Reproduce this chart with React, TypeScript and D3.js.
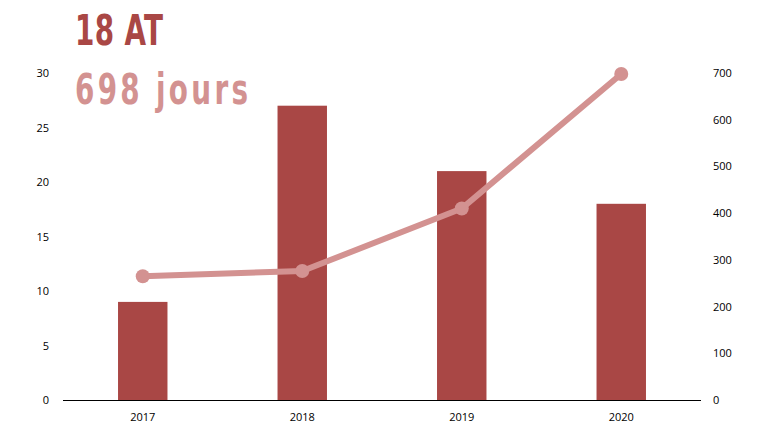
import React from "react";
import * as d3 from "d3";

const years = ["2017", "2018", "2019", "2020"];
const accidents = [9, 27, 21, 18];
const days = [265, 276, 410, 698];
const leftTicks = [0, 5, 10, 15, 20, 25, 30];
const rightTicks = [0, 100, 200, 300, 400, 500, 600, 700];

export default function App() {
  const W = 758, H = 424;
  const x0 = 63, x1 = 701, yTop = 73, yBot = 400;
  const x = d3.scaleBand().domain(years).range([x0, x1]).paddingInner(0.69).paddingOuter(0.345);
  const yL = d3.scaleLinear().domain([0, 30]).range([yBot, yTop]);
  const yR = d3.scaleLinear().domain([0, 700]).range([yBot, yTop]);
  const cx = (y: string) => (x(y) as number) + x.bandwidth() / 2;
  const line = d3.line<number>().x((_, i) => cx(years[i])).y(d => yR(d));
  const font = "'Open Sans', 'Liberation Sans', sans-serif";
  const titleFont = "'DejaVu Sans Condensed', 'DejaVu Sans', sans-serif";
  const sx = 0.72;
  return (
    <svg width={W} height={H} style={{ position: "absolute", left: 0, top: 0, background: "#fff" }}>
      <g transform={`scale(${sx},1)`}>
        <text x={75 / sx} y={45} fontFamily={titleFont} fontWeight="bold" fontSize={43} fill="#a94745" textLength={88 / sx} lengthAdjust="spacing">18 AT</text>
        <text x={75 / sx} y={104} fontFamily={titleFont} fontWeight="bold" fontSize={43} fill="#d39291" textLength={173 / sx} lengthAdjust="spacing">698 jours</text>
      </g>
      {accidents.map((v, i) => (
        <rect key={i} x={x(years[i])} y={yL(v)} width={x.bandwidth()} height={yBot - yL(v)} fill="#a94745" />
      ))}
      <line x1={x0} x2={x1} y1={yBot + 0.5} y2={yBot + 0.5} stroke="#000" strokeWidth={1} />
      {leftTicks.map(t => (
        <text key={t} x={49} y={yL(t) + 4} textAnchor="end" fontFamily={font} fontSize={11} fill="#000">{t}</text>
      ))}
      {rightTicks.map(t => (
        <text key={t} x={713} y={yR(t) + 4} textAnchor="start" fontFamily={font} fontSize={11} fill="#000">{t}</text>
      ))}
      {years.map(y => (
        <text key={y} x={cx(y)} y={421} textAnchor="middle" fontFamily={font} fontSize={11} fill="#000">{y}</text>
      ))}
      <path d={line(days) as string} fill="none" stroke="#d39291" strokeWidth={6} strokeLinejoin="round" strokeLinecap="round" />
      {days.map((d, i) => (
        <circle key={i} cx={cx(years[i])} cy={yR(d)} r={7} fill="#d39291" />
      ))}
    </svg>
  );
}
